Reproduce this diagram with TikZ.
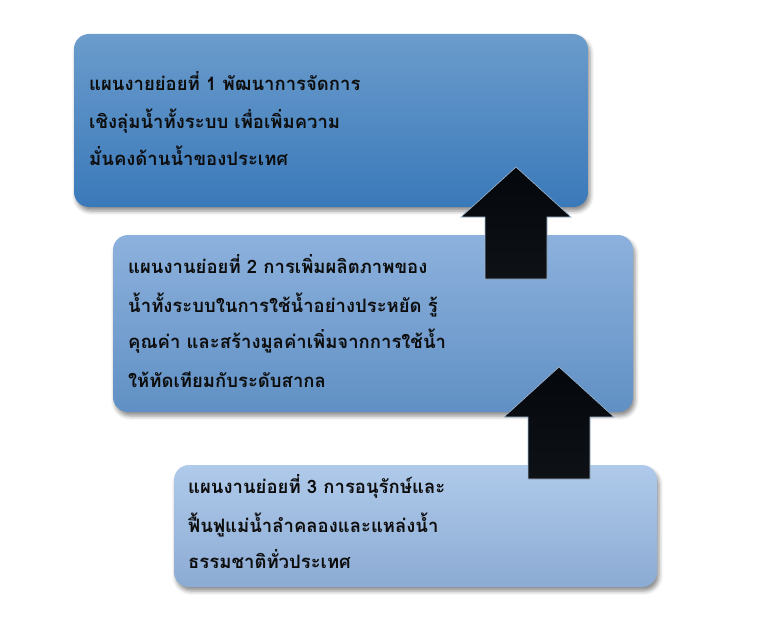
\documentclass[tikz,border=0pt]{standalone}
\usepackage{fontspec}
\newfontfamily\thai[Script=Thai]{Loma}
\usetikzlibrary{shadows.blur}
\definecolor{bOneTop}{HTML}{6B9CCC}
\definecolor{bOneBot}{HTML}{3A79BA}
\definecolor{bTwoTop}{HTML}{8DB1DD}
\definecolor{bTwoBot}{HTML}{6090C4}
\definecolor{bThrTop}{HTML}{AFCAEA}
\definecolor{bThrBot}{HTML}{8CABD4}
\definecolor{arTop}{HTML}{04080D}
\definecolor{arMid}{HTML}{1C1B1A}
\definecolor{arBot}{HTML}{0E1115}
\definecolor{arEdge}{HTML}{A3BAD2}
\definecolor{txtc}{HTML}{0D0D0D}
\begin{document}
\begin{tikzpicture}[x=1pt,y=-1pt,
  planbox/.style={rectangle, rounded corners=15pt, inner sep=0pt,
    blur shadow={shadow xshift=2pt, shadow yshift=-4pt, shadow blur radius=4pt, shadow opacity=45}},
  blockarrow/.style={draw=arEdge, line width=0.6pt, top color=arTop, middle color=arMid, bottom color=arBot},
  line/.style={anchor=base west, inner sep=0pt, text height=14pt, text depth=3pt, text=txtc,
    font={\thai\bfseries\fontsize{18.5}{22}\selectfont}}
]
\useasboundingbox (0,0) rectangle (776,618);
% boxes
\node[planbox, minimum width=514pt, minimum height=173pt, top color=bOneTop, bottom color=bOneBot] (b1) at (331,120.5) {};
\node[planbox, minimum width=520pt, minimum height=177pt, top color=bTwoTop, bottom color=bTwoBot] (b2) at (373,323.5) {};
\node[planbox, minimum width=483pt, minimum height=122pt, top color=bThrTop, bottom color=bThrBot] (b3) at (415.5,526) {};
% texts
\node[line] (t1a) at (89,90) {แผนงายย่อยที่ 1 พัฒนาการจัดการ};
\node[line] (t1b) at (89,128) {เชิงลุ่มน้ำทั้งระบบ เพื่อเพิ่มความ};
\node[line] (t1c) at (89,165) {มั่นคงด้านน้ำของประเทศ};
\node[line] (t2a) at (128,273) {แผนงานย่อยที่ 2 การเพิ่มผลิตภาพของ};
\node[line] (t2b) at (128,312) {น้ำทั้งระบบในการใช้น้ำอย่างประหยัด รู้};
\node[line] (t2c) at (128,348) {คุณค่า และสร้างมูลค่าเพิ่มจากการใช้น้ำ};
\node[line] (t2d) at (128,387) {ให้ทัดเทียมกับระดับสากล};
\node[line] (t3a) at (188,493) {แผนงานย่อยที่ 3 การอนุรักษ์และ};
\node[line] (t3b) at (188,532) {ฟื้นฟูแม่น้ำลำคลองและแหล่งน้ำ};
\node[line] (t3c) at (188,568) {ธรรมชาติทั่วประเทศ};
% arrows
\path[blockarrow] (516,167) -- (571,217) -- (547,217) -- (547,279) -- (485,279) -- (485,217) -- (461,217) -- cycle;
\path[blockarrow] (559,367) -- (614,417) -- (590,417) -- (590,479) -- (528,479) -- (528,417) -- (504,417) -- cycle;
\end{tikzpicture}
\end{document}
